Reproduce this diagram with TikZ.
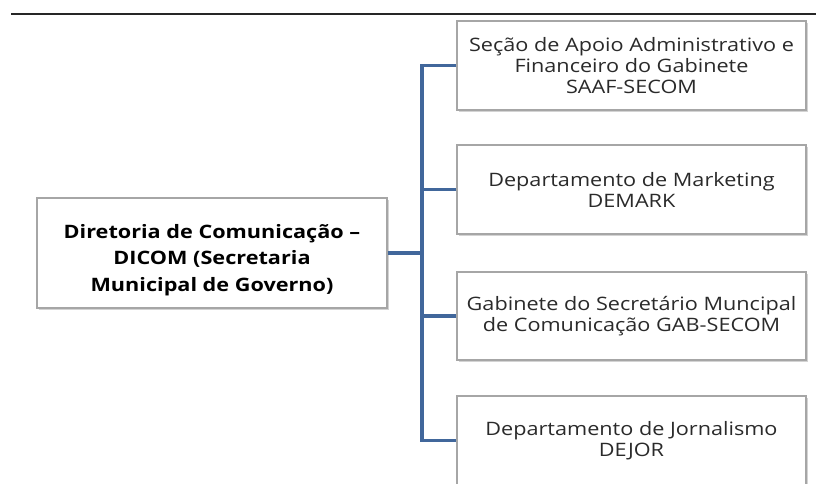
\documentclass[tikz,border=0pt]{standalone}
\usepackage{fontspec}
\setmainfont{Open Sans}[FakeStretch=1.17]
\usetikzlibrary{shadows}
\definecolor{conncol}{HTML}{41679B}
\definecolor{boxline}{HTML}{A6A6A6}
\definecolor{txt}{HTML}{2A2A2A}
\begin{document}
\begin{tikzpicture}[x=1pt,y=-1pt,
  box/.style={draw=boxline,line width=1.5pt,fill=white,minimum width=349pt,
    align=center,text=txt,font=\fontsize{18.5}{21}\selectfont,
    drop shadow={shadow xshift=2pt,shadow yshift=-2pt,opacity=0.35,fill=gray}},
  conn/.style={draw=conncol,line width=3.2pt}]
\useasboundingbox (0,0) rectangle (816,483);
\draw[line width=1.6pt,black!85] (11,14) -- (816,14);
\node[box,minimum height=89pt] (b1) at (631.5,65.5) {Seção de Apoio Administrativo e\\Financeiro do Gabinete\\SAAF-SECOM};
\node[box,minimum height=89pt] (b2) at (631.5,189.5) {Departamento de Marketing\\DEMARK};
\node[box,minimum height=88pt] (b3) at (631.5,316) {Gabinete do Secretário Muncipal\\de Comunicação GAB-SECOM};
\node[box,minimum height=89pt] (b4) at (631.5,440.5) {Departamento de Jornalismo\\DEJOR};
\node[box,minimum width=350pt,minimum height=110pt,text=black,font=\bfseries\fontsize{18.5}{26.5}\selectfont] (L) at (212,253) {\rule{0pt}{28pt}Diretoria de Comunicação –\\DICOM (Secretaria\\Municipal de Governo)};
\coordinate (j) at (422,253);
\draw[conn] (L.east) -- (j);
\draw[conn] (b1.west) -| (j |- b4.west) -- (b4.west);
\draw[conn] (b2.west) -- (b2.west -| j);
\draw[conn] (b3.west) -- (b3.west -| j);
\end{tikzpicture}
\end{document}
